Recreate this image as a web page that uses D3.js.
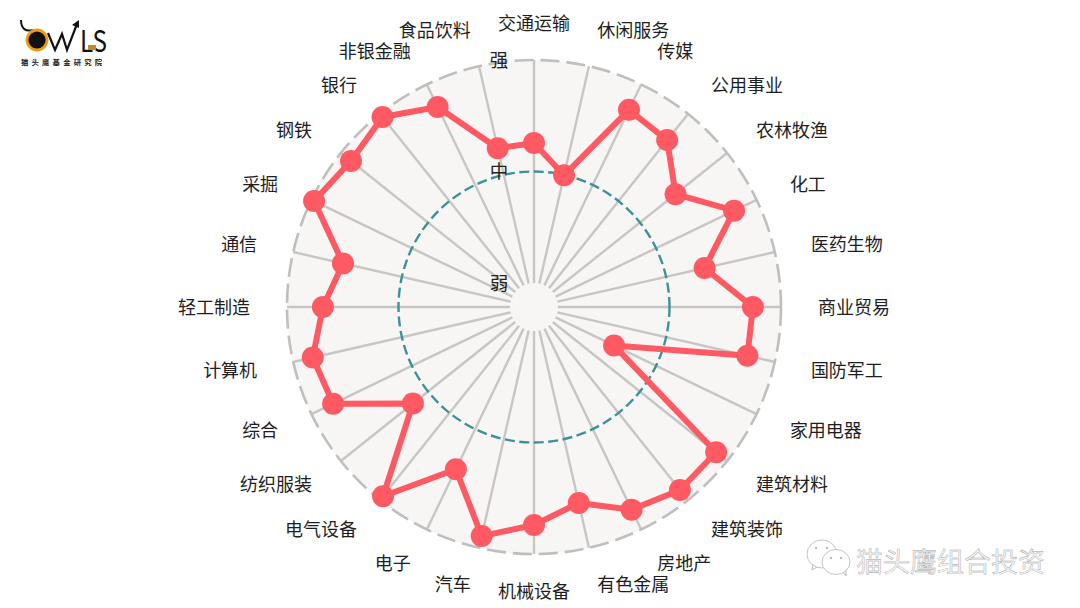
<!DOCTYPE html>
<html><head><meta charset="utf-8">
<script src="https://cdn.jsdelivr.net/npm/d3@7/dist/d3.min.js"></script>
<style>html,body{margin:0;padding:0;background:#fff;overflow:hidden}svg{display:block}text{font-family:"Noto Sans CJK SC","Noto Sans",sans-serif}</style>
</head><body><svg id="c" width="1080" height="608"></svg>
<script>
const categories=["交通运输","休闲服务","传媒","公用事业","农林牧渔","化工","医药生物","商业贸易","国防军工","家用电器","建筑材料","建筑装饰","房地产","有色金属","机械设备","汽车","电子","电气设备","纺织服装","综合","计算机","轻工制造","通信","采掘","钢铁","银行","非银金融","食品饮料"];
const values=[62.8,49.8,87.4,85,70.4,88.8,67.7,87.4,87.4,29.1,93.7,94.2,90.1,79.4,87,94.6,70,97.8,58.7,89.2,91,83.9,77.1,98.7,94.2,98.2,88.8,62.3];
const levelTicks=[0,50,100];
const levelLabels=["弱","中","强"];

const svg=d3.select("#c");
const cx=534,cy=307;
const r=d3.scaleLinear().domain([0,100]).range([24,247]);
const angle=d3.scaleBand().domain(categories).range([0,2*Math.PI]).align(0).paddingInner(0).paddingOuter(0);
const polar=(a,rad)=>[rad*Math.sin(a),-rad*Math.cos(a)];
const g=svg.append("g").attr("transform",`translate(${cx},${cy})`);

g.append("circle").attr("r",r(100)).attr("fill","#f7f6f4");
g.selectAll("line.spoke").data(categories).join("line").attr("class","spoke")
 .attr("x1",d=>polar(angle(d),r(0))[0]).attr("y1",d=>polar(angle(d),r(0))[1])
 .attr("x2",d=>polar(angle(d),r(100))[0]).attr("y2",d=>polar(angle(d),r(100))[1])
 .attr("stroke","#c6c6c4").attr("stroke-width",2.4);
g.append("circle").attr("r",r(100)).attr("fill","none").attr("stroke","#bfbfbd").attr("stroke-width",2.6).attr("stroke-dasharray","19 7");
g.append("circle").attr("r",r(50)).attr("fill","none").attr("stroke","#3d9199").attr("stroke-width",2.4).attr("stroke-dasharray","10 4.5");

const lineGen=d3.lineRadial().angle(d=>angle(d.c)).radius(d=>r(d.v)).curve(d3.curveLinearClosed);
const pts=categories.map((c,i)=>({c,v:values[i]}));
g.append("path").datum(pts).attr("d",lineGen).attr("fill","none").attr("stroke","#ff5a63").attr("stroke-width",6).attr("stroke-linejoin","round");
g.selectAll("circle.pt").data(pts).join("circle").attr("class","pt")
 .attr("cx",d=>polar(angle(d.c),r(d.v))[0]).attr("cy",d=>polar(angle(d.c),r(d.v))[1])
 .attr("r",11).attr("fill","#ff5a63");

g.selectAll("text.lvl").data(levelTicks).join("text").attr("class","lvl")
 .attr("x",-35).attr("y",d=>-r(d)-1.5).attr("text-anchor","middle").attr("dominant-baseline","central")
 .attr("font-size",18.5).attr("fill","#222").text((d,i)=>levelLabels[i]);

const labelR=284;
g.selectAll("text.cat").data(categories).join("text").attr("class","cat")
 .attr("x",d=>polar(angle(d),labelR)[0]).attr("y",d=>polar(angle(d),labelR)[1]-1.2)
 .attr("text-anchor",(d,i)=>(i===0||i===14)?"middle":(i<14?"start":"end"))
 .attr("dominant-baseline","central").attr("font-size",18).attr("fill","#1e1e1e").text(d=>d);

// logo
const logo=svg.append("g");
logo.append("path").attr("d","M21 20 C21 29 26 32 33 30").attr("fill","none").attr("stroke","#111").attr("stroke-width",2);
logo.append("circle").attr("cx",37).attr("cy",40).attr("r",10).attr("fill","#111").attr("stroke","#f09a12").attr("stroke-width",2.8);
logo.append("path").attr("d","M48 33 L55 50 L62 34 L67 50 L77 24").attr("fill","none").attr("stroke","#111").attr("stroke-width",2.2);
logo.append("path").attr("d","M72 25 L79 20 L79 28 Z").attr("fill","#111");
logo.append("text").attr("x",80).attr("y",51.5).attr("font-size",30).attr("font-family","Liberation Sans").attr("textLength",27).attr("lengthAdjust","spacingAndGlyphs").attr("fill","#111").text("LS");
logo.append("rect").attr("x",88).attr("y",45).attr("width",8).attr("height",5).attr("fill","#c98a1c");
logo.append("text").attr("x",21).attr("y",65).attr("font-size",7.4).attr("font-weight",700).attr("letter-spacing",3.15).attr("fill","#222").text("猫头鹰基金研究院");

// watermark
const wm=svg.append("g");
wm.append("path").attr("d","M813 564 L812 570 L819 566 Z").attr("fill","#fff").attr("stroke","#bbb");
wm.append("ellipse").attr("cx",822).attr("cy",554).attr("rx",15).attr("ry",14).attr("fill","#fff").attr("stroke","#c4c4c4").attr("stroke-width",1);
wm.append("path").attr("d","M842 571 L846 576 L846 567 Z").attr("fill","#fff").attr("stroke","#bbb");
wm.append("ellipse").attr("cx",836).attr("cy",562).attr("rx",14).attr("ry",12.5).attr("fill","#fff").attr("stroke","#c4c4c4").attr("stroke-width",1);
wm.selectAll("circle.e").data([[816,548],[827,548],[831,558],[841,558]]).join("circle").attr("cx",d=>d[0]).attr("cy",d=>d[1]).attr("r",1.2).attr("fill","#bbb");
wm.append("text").attr("x",856).attr("y",560).attr("dominant-baseline","central").attr("font-size",27).attr("fill","#f4f4f4").attr("stroke","#a2a2a2").attr("stroke-width",0.4).text("猫头鹰组合投资");
</script></body></html>
